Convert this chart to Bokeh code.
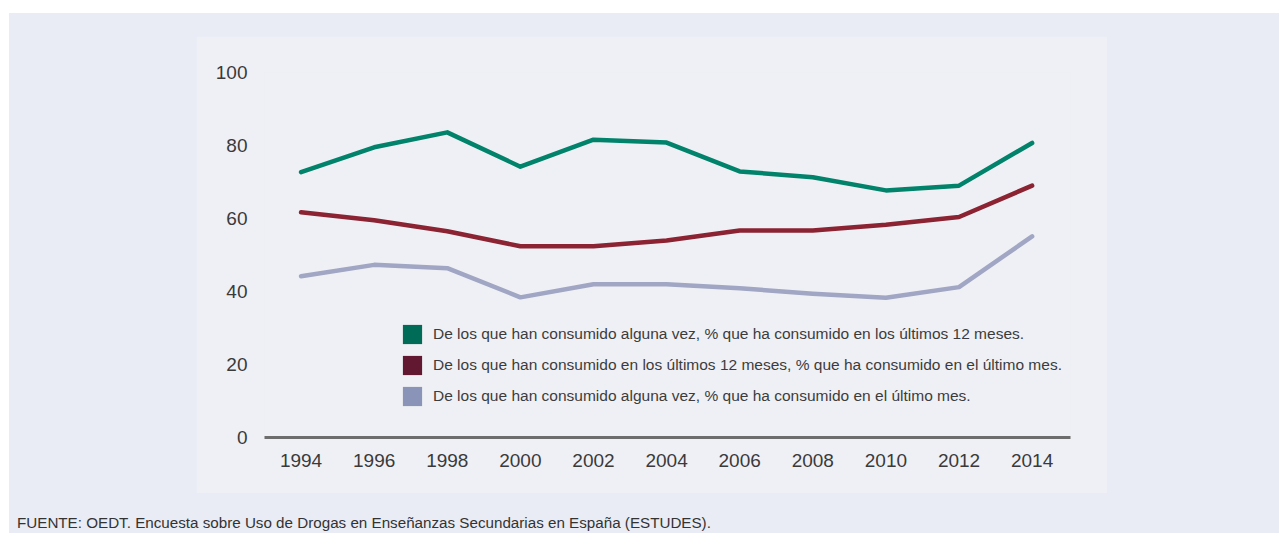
from bokeh.plotting import figure
from bokeh.models import Range1d, FixedTicker, Legend, LegendItem, Spacer, Div, ColumnDataSource
from bokeh.layouts import column, row
from bokeh.embed import file_html
from bokeh.resources import INLINE

years = [1994, 1996, 1998, 2000, 2002, 2004, 2006, 2008, 2010, 2012, 2014]
ever_to_12m = [72.7, 79.5, 83.6, 74.2, 81.6, 80.8, 72.9, 71.3, 67.7, 69.0, 80.7]
m12_to_month = [61.7, 59.5, 56.5, 52.4, 52.4, 54.0, 56.7, 56.7, 58.3, 60.4, 69.0]
ever_to_month = [44.2, 47.3, 46.4, 38.4, 42.0, 42.0, 40.9, 39.4, 38.3, 41.2, 55.1]
y_ticks = [0, 20, 40, 60, 80, 100]
series_labels = [
    "De los que han consumido alguna vez, % que ha consumido en los últimos 12 meses.",
    "De los que han consumido en los últimos 12 meses, % que ha consumido en el último mes.",
    "De los que han consumido alguna vez, % que ha consumido en el último mes.",
]
footer_text = "FUENTE: OEDT. Encuesta sobre Uso de Drogas en Enseñanzas Secundarias en España (ESTUDES)."

line_colors = ["#00836a", "#8b2332", "#a0a6c3"]
legend_colors = ["#006b56", "#611830", "#8a94b8"]
OUTER = "#e9ecf4"
INNER = "#eff0f5"
FONT = "Liberation Sans"

p = figure(width=911, height=457, output_backend="svg", toolbar_location=None,
           x_range=Range1d(1993.0, 2015.05), y_range=Range1d(0, 100),
           min_border_left=68, min_border_right=37, min_border_top=36, min_border_bottom=56)
p.background_fill_color = INNER
p.border_fill_color = INNER
p.outline_line_color = None
p.grid.visible = False

series = [ever_to_12m, m12_to_month, ever_to_month]
items = []
for ys, c, lc, lab in zip(series, line_colors, legend_colors, series_labels):
    p.line(years, ys, line_color=c, line_width=4.5, line_join="round", line_cap="round")
    # zero-area quads on the series points: invisible in the plot, used as square legend swatches
    src = ColumnDataSource(dict(l=years, r=years, t=ys, b=ys))
    q = p.quad(left="l", right="r", top="t", bottom="b", source=src,
               fill_color=lc, line_color=None)
    items.append(LegendItem(label=lab, renderers=[q]))

legend = Legend(items=items, location=(136, 29), glyph_width=24, glyph_height=24,
                spacing=7, padding=0, margin=0, label_standoff=9,
                label_text_font=FONT, label_text_font_size="15.5px", label_text_color="#3c3c3c",
                background_fill_alpha=0, border_line_color=None)
p.add_layout(legend, "center")

xa = p.xaxis[0]
xa.ticker = FixedTicker(ticks=years)
xa.axis_line_color = "#6d6d6d"
xa.axis_line_width = 3
xa.major_tick_line_color = None
xa.minor_tick_line_color = None
xa.major_tick_out = 0
xa.major_tick_in = 0
xa.major_label_standoff = 16
xa.major_label_text_font = FONT
xa.major_label_text_font_size = "19px"
xa.major_label_text_color = "#3a3a3a"

ya = p.yaxis[0]
ya.ticker = FixedTicker(ticks=y_ticks)
ya.axis_line_color = None
ya.major_tick_line_color = None
ya.minor_tick_line_color = None
ya.major_tick_out = 0
ya.major_tick_in = 0
ya.major_label_standoff = 17
ya.major_label_text_font = FONT
ya.major_label_text_font_size = "19px"
ya.major_label_text_color = "#3a3a3a"

footer = Div(text=footer_text, width=1200, height=18,
             styles={"font-family": FONT, "font-size": "15.2px", "color": "#333333",
                     "line-height": "18px", "white-space": "nowrap"})

inner_col = column(
    Spacer(width=1270, height=23),
    row(Spacer(width=187, height=457), p),
    Spacer(width=1270, height=16),
    row(Spacer(width=3, height=18), footer),
    Spacer(width=1270, height=6),
    styles={"background-color": OUTER},
)
root = column(Spacer(width=1279, height=13), row(Spacer(width=9, height=520), inner_col))

open("out.html", "w").write(file_html(root, INLINE))
